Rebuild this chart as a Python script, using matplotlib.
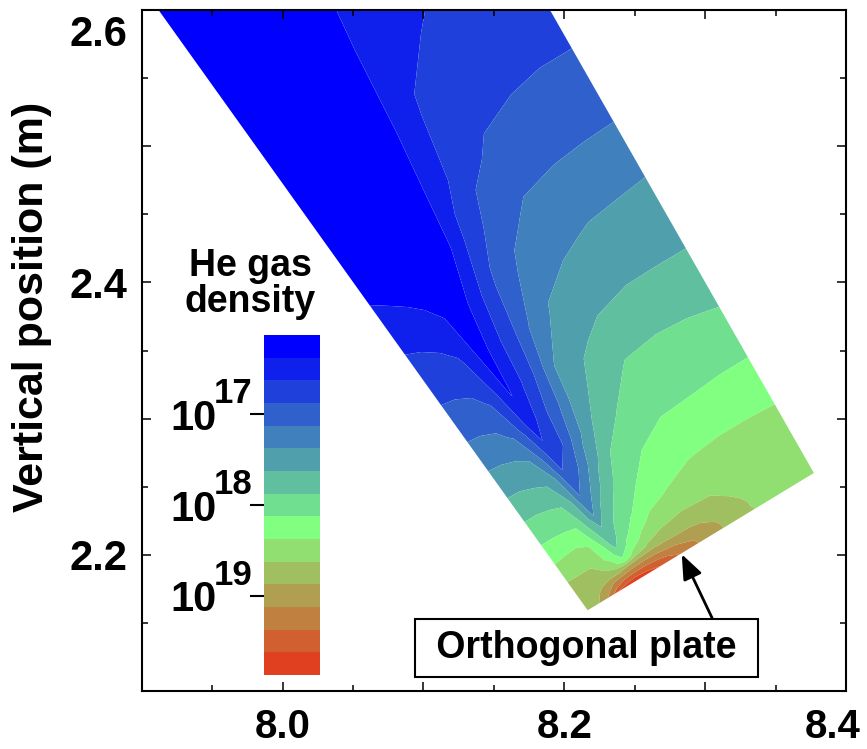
import numpy as np
import matplotlib
matplotlib.use("Agg")
import matplotlib.pyplot as plt
from matplotlib import transforms

plt.rcParams['font.family'] = ['Liberation Sans', 'DejaVu Sans']
plt.rcParams['font.weight'] = 'bold'

# corners of the simulated strip (R, Z in m)
plate_left = (8.2166, 2.1593)
plate_right = (8.3772, 2.2601)
top_left = (7.9102, 2.6026)
top_right = (8.1170, 2.7322)

# grid nodes: fraction along the plate, fraction of strip height above it
along_plate = [0, 0.05, 0.1, 0.14, 0.18, 0.22, 0.27, 0.33, 0.4, 0.5, 0.62, 0.76, 0.88, 1.0]
from_plate = [0, 0.0068, 0.0135, 0.0216, 0.0324, 0.0459, 0.0622, 0.0811, 0.1054,
              0.1351, 0.1689, 0.2095, 0.2568, 0.3108, 0.3716, 0.4392, 0.5135,
              0.5946, 0.6892, 0.8108, 1.0]

# log10 of He density (m^-3), one row per from_plate node
log_density = [
    [18.75, 18.84, 19.20, 19.64, 19.75, 19.80, 19.72, 19.61, 19.39, 19.10, 18.83, 18.59, 18.51, 18.46],
    [18.73, 18.80, 19.05, 19.30, 19.50, 19.56, 19.55, 19.45, 19.30, 19.08, 18.83, 18.57, 18.50, 18.46],
    [18.70, 18.78, 18.93, 19.12, 19.20, 19.25, 19.27, 19.25, 19.15, 19.00, 18.82, 18.57, 18.50, 18.46],
    [18.69, 18.71, 18.80, 18.83, 18.83, 18.95, 19.00, 19.00, 18.95, 18.92, 18.78, 18.55, 18.50, 18.46],
    [18.66, 18.66, 18.65, 18.63, 18.45, 18.20, 18.50, 18.68, 18.73, 18.74, 18.70, 18.53, 18.48, 18.44],
    [18.63, 18.63, 18.63, 18.45, 18.30, 17.95, 18.22, 18.45, 18.60, 18.65, 18.63, 18.52, 18.47, 18.43],
    [18.49, 18.49, 18.47, 18.42, 18.17, 17.75, 18.03, 18.27, 18.45, 18.52, 18.52, 18.47, 18.44, 18.41],
    [18.33, 18.36, 18.37, 18.34, 17.95, 17.70, 17.90, 18.09, 18.29, 18.40, 18.42, 18.42, 18.41, 18.40],
    [18.14, 18.14, 18.13, 18.10, 17.80, 17.37, 17.76, 17.95, 18.13, 18.26, 18.37, 18.39, 18.39, 18.38],
    [17.95, 17.95, 17.93, 17.89, 17.63, 17.14, 17.43, 17.80, 18.00, 18.18, 18.25, 18.28, 18.28, 18.28],
    [17.72, 17.72, 17.68, 17.64, 17.42, 16.93, 17.13, 17.52, 17.87, 18.03, 18.14, 18.15, 18.16, 18.16],
    [17.49, 17.48, 17.45, 17.40, 17.10, 16.72, 16.86, 17.28, 17.63, 17.88, 17.96, 18.01, 18.03, 18.03],
    [17.23, 17.22, 17.18, 17.08, 16.81, 16.47, 16.78, 17.07, 17.50, 17.72, 17.90, 17.92, 17.91, 17.88],
    [16.97, 16.96, 16.93, 16.85, 16.62, 16.35, 16.60, 16.90, 17.36, 17.58, 17.70, 17.75, 17.74, 17.72],
    [16.77, 16.76, 16.72, 16.66, 16.49, 16.25, 16.53, 16.77, 17.11, 17.41, 17.50, 17.55, 17.56, 17.57],
    [16.58, 16.55, 16.50, 16.44, 16.37, 16.20, 16.36, 16.64, 16.95, 17.20, 17.33, 17.40, 17.42, 17.44],
    [16.35, 16.30, 16.25, 16.22, 16.20, 16.20, 16.25, 16.38, 16.73, 17.00, 17.15, 17.19, 17.20, 17.21],
    [16.30, 16.25, 16.22, 16.20, 16.20, 16.20, 16.22, 16.30, 16.50, 16.80, 16.93, 16.98, 17.00, 17.00],
    [16.28, 16.24, 16.20, 16.18, 16.18, 16.18, 16.20, 16.30, 16.39, 16.67, 16.75, 16.80, 16.82, 16.82],
    [16.25, 16.22, 16.20, 16.18, 16.18, 16.18, 16.20, 16.25, 16.35, 16.48, 16.59, 16.68, 16.70, 16.72],
    [16.25, 16.22, 16.20, 16.18, 16.18, 16.18, 16.20, 16.22, 16.28, 16.40, 16.50, 16.60, 16.65, 16.68],
]

levels = np.arange(16.125, 19.876, 0.25)
band_colors = ['#0000FF', '#1020EC', '#2040DC', '#3060CC', '#4080BC', '#509FAD',
               '#60BF9F', '#70DF8F', '#80FF80', '#90DF70', '#A0BF60', '#B09F50',
               '#C08040', '#D06030', '#E04020']
cbar_ticks = [17, 18, 19]
cbar_exponents = ['17', '18', '19']

x_ticks = [7.9, 8.0, 8.1, 8.2, 8.3, 8.4]
x_tick_labels = ['', '8.0', '', '8.2', '', '8.4']
x_minor = [7.95, 8.05, 8.15, 8.25, 8.35]
y_ticks = [2.1, 2.2, 2.3, 2.4, 2.5, 2.6]
y_tick_labels = ['', '2.2', '', '2.4', '', '2.6']
y_minor = [2.15, 2.25, 2.35, 2.45, 2.55]

plate_tip = (8.2834, 2.2004)
plate_label_pos = (8.2156, 2.1316)

# build the mesh of the strip
U, V = np.meshgrid(along_plate, from_plate)
X = (1 - V) * ((1 - U) * plate_left[0] + U * plate_right[0]) + V * ((1 - U) * top_left[0] + U * top_right[0])
Y = (1 - V) * ((1 - U) * plate_left[1] + U * plate_right[1]) + V * ((1 - U) * top_left[1] + U * top_right[1])
Z = np.array(log_density)

fig = plt.figure(figsize=(8.67, 7.49), dpi=100)
ax = fig.add_axes([0.1634, 0.0774, 0.8124, 0.9092])

cf = ax.contourf(X, Y, Z, levels=levels, colors=band_colors, antialiased=True)

ax.set_xlim(7.9, 8.4)
ax.set_ylim(2.1, 2.6)
ax.set_xticks(x_ticks)
ax.set_xticklabels(x_tick_labels)
ax.set_xticks(x_minor, minor=True)
ax.set_yticks(y_ticks)
ax.set_yticklabels(y_tick_labels)
ax.set_yticks(y_minor, minor=True)
ax.tick_params(which='both', direction='in', top=True, right=True, width=1.1)
ax.tick_params(which='major', length=6.5)
ax.tick_params(which='minor', length=4.3)
ax.tick_params(axis='x', pad=12, labelsize=29)
ax.tick_params(axis='y', pad=10, labelsize=30)
for sp in ax.spines.values():
    sp.set_linewidth(1.5)

# edge labels pulled inside the figure like in the original
lab = ax.xaxis.get_major_ticks()[-1].label1
lab.set_transform(lab.get_transform() + transforms.ScaledTranslation(-0.13, 0, fig.dpi_scale_trans))
lab = ax.yaxis.get_major_ticks()[-1].label1
lab.set_transform(lab.get_transform() + transforms.ScaledTranslation(0, -0.20, fig.dpi_scale_trans))

fig.text(32 / 867, 1 - 307 / 749, 'Vertical position (m)', rotation=90,
         ha='center', va='center', fontsize=31)

# colour bar inside the axes
cax = ax.inset_axes([0.1737, 0.0235, 0.0795, 0.4993])
cb = fig.colorbar(cf, cax=cax)
cb.outline.set_visible(False)
cax.invert_yaxis()
cb.set_ticks(cbar_ticks)
cb.set_ticklabels(['10'] * len(cbar_ticks))
cax.yaxis.set_ticks_position('left')
cax.minorticks_off()
cax.tick_params(axis='y', direction='out', length=10, width=1.5, pad=24, labelsize=30)
sup_tr = (transforms.blended_transform_factory(cax.transAxes, cax.transData)
          + transforms.ScaledTranslation(0, 0.11, fig.dpi_scale_trans))
for t, e in zip(cbar_ticks, cbar_exponents):
    cax.text(-0.2, t, e, transform=sup_tr, ha='right', va='baseline', fontsize=25)

ax.text(0.154, 0.597, 'He gas\ndensity', transform=ax.transAxes, ha='center',
        va='center', fontsize=27, linespacing=1.0)

ax.annotate(' Orthogonal plate ', xy=plate_tip, xytext=plate_label_pos,
            ha='center', va='center', fontsize=27,
            bbox=dict(boxstyle='square,pad=0.3', fc='white', ec='black', lw=1.5),
            arrowprops=dict(arrowstyle='-|>,head_length=0.5,head_width=0.2', color='black',
                            lw=2, mutation_scale=30, relpos=(0.91, 1.0),
                            shrinkA=0, shrinkB=0))

fig.savefig('out.png', dpi=100)
